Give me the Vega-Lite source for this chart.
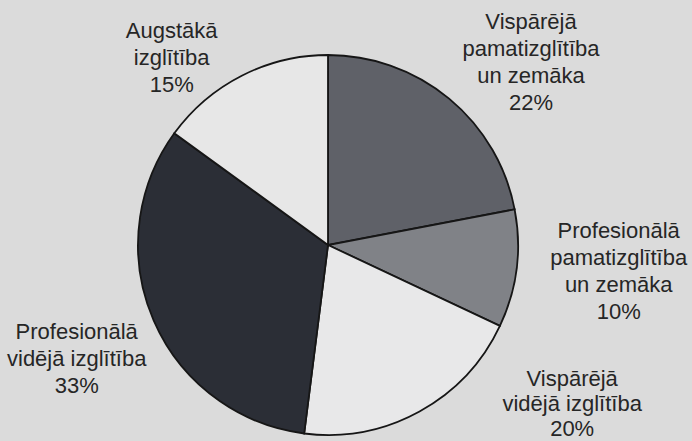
{
  "$schema": "https://vega.github.io/schema/vega-lite/v6.json",
  "autosize": {"type": "none"},
  "width": 656,
  "height": 380,
  "padding": {"left": 0, "top": 55, "right": 36, "bottom": 6},
  "background": "#dbdbdb",
  "view": {"stroke": null},
  "data": {
    "values": [
      {"category": "Vispārējā pamatizglītība un zemāka", "label": "Vispārējā\npamatizglītība\nun zemāka\n22%", "value": 22, "order": 1},
      {"category": "Profesionālā pamatizglītība un zemāka", "label": "Profesionālā\npamatizglītība\nun zemāka\n10%", "value": 10, "order": 2},
      {"category": "Vispārējā vidējā izglītība", "label": "Vispārējā\nvidējā izglītība\n20%", "value": 20, "order": 3},
      {"category": "Profesionālā vidējā izglītība", "label": "Profesionālā\nvidējā izglītība\n33%", "value": 33, "order": 4},
      {"category": "Augstākā izglītība", "label": "Augstākā\nizglītība\n15%", "value": 15, "order": 5}
    ]
  },
  "encoding": {
    "theta": {"field": "value", "type": "quantitative", "stack": true},
    "order": {"field": "order", "type": "quantitative"}
  },
  "layer": [
    {
      "mark": {"type": "arc", "stroke": "#161616", "strokeWidth": 1.8},
      "encoding": {
        "color": {
          "field": "category",
          "type": "nominal",
          "legend": null,
          "scale": {
            "domain": ["Vispārējā pamatizglītība un zemāka", "Profesionālā pamatizglītība un zemāka", "Vispārējā vidējā izglītība", "Profesionālā vidējā izglītība", "Augstākā izglītība"],
            "range": ["#5f6168", "#808287", "#e8e8e9", "#2b2e36", "#e7e7e7"]
          }
        }
      }
    },
    {
      "mark": {"type": "text", "font": "Liberation Sans", "fontSize": 22, "lineHeight": 27, "lineBreak": "\n", "align": "center", "baseline": "middle", "fill": "#262626", "dx": 29, "dy": -13},
      "encoding": {
        "radius": {"value": 273},
        "text": {"condition": {"test": "datum.category === 'Vispārējā pamatizglītība un zemāka'", "field": "label", "type": "nominal"}, "value": ""}
      }
    },
    {
      "mark": {"type": "text", "font": "Liberation Sans", "fontSize": 22, "lineHeight": 27, "lineBreak": "\n", "align": "center", "baseline": "middle", "fill": "#262626", "dx": 1, "dy": -51},
      "encoding": {
        "radius": {"value": 292},
        "text": {"condition": {"test": "datum.category === 'Profesionālā pamatizglītība un zemāka'", "field": "label", "type": "nominal"}, "value": ""}
      }
    },
    {
      "mark": {"type": "text", "font": "Liberation Sans", "fontSize": 22, "lineHeight": 25, "lineBreak": "\n", "align": "center", "baseline": "middle", "fill": "#262626", "dx": 143, "dy": -50},
      "encoding": {
        "radius": {"value": 210},
        "text": {"condition": {"test": "datum.category === 'Vispārējā vidējā izglītība'", "field": "label", "type": "nominal"}, "value": ""}
      }
    },
    {
      "mark": {"type": "text", "font": "Liberation Sans", "fontSize": 22, "lineHeight": 27, "lineBreak": "\n", "align": "center", "baseline": "middle", "fill": "#262626", "dx": 2, "dy": -23},
      "encoding": {
        "radius": {"value": 276},
        "text": {"condition": {"test": "datum.category === 'Profesionālā vidējā izglītība'", "field": "label", "type": "nominal"}, "value": ""}
      }
    },
    {
      "mark": {"type": "text", "font": "Liberation Sans", "fontSize": 22, "lineHeight": 27, "lineBreak": "\n", "align": "center", "baseline": "middle", "fill": "#262626", "dx": -46, "dy": 3},
      "encoding": {
        "radius": {"value": 243},
        "text": {"condition": {"test": "datum.category === 'Augstākā izglītība'", "field": "label", "type": "nominal"}, "value": ""}
      }
    }
  ]
}
